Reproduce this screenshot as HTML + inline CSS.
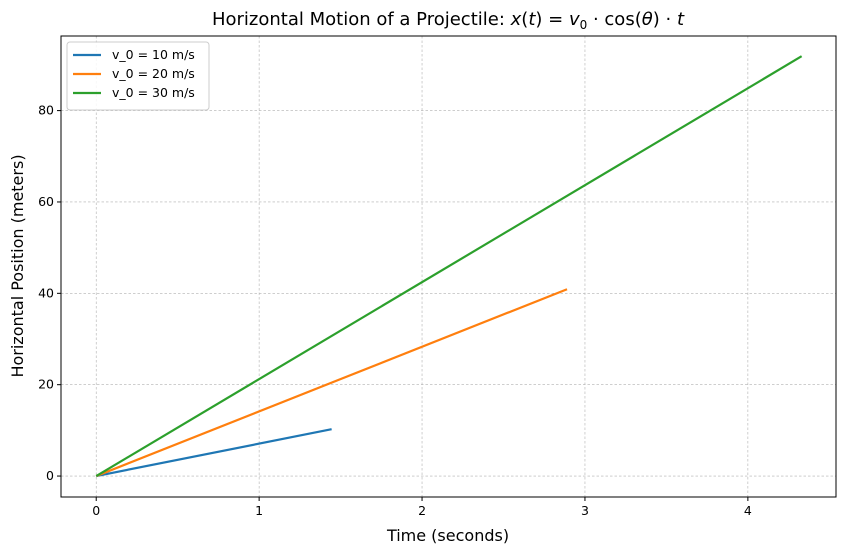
<!DOCTYPE html>
<html><head><meta charset="utf-8"><style>
body{margin:0;background:#fff;font-family:"Liberation Sans","DejaVu Sans",sans-serif;}
</style></head><body>
<svg id="chart" width="845" height="554" xmlns="http://www.w3.org/2000/svg">
<text x="448" y="25" text-anchor="middle" font-size="18" font-family="DejaVu Sans, sans-serif">Horizontal Motion of a Projectile: <tspan font-style="italic">x</tspan>(<tspan font-style="italic">t</tspan>) = <tspan font-style="italic">v</tspan><tspan font-size="12" dy="4">0</tspan><tspan dy="-4"> · cos(</tspan><tspan font-style="italic">θ</tspan>) · <tspan font-style="italic">t</tspan></text>
<g id="grid"></g>
<g id="series"></g>
<rect x="61" y="36" width="775" height="461" fill="none" stroke="#000" stroke-width="1"/>
<g id="ticks" font-size="12.5" font-family="DejaVu Sans, sans-serif"></g>
<text x="448" y="541" text-anchor="middle" font-size="16" font-family="DejaVu Sans, sans-serif">Time (seconds)</text>
<text transform="translate(23,266) rotate(-90)" text-anchor="middle" font-size="16" font-family="DejaVu Sans, sans-serif">Horizontal Position (meters)</text>
<g id="legend" font-size="12.5" font-family="DejaVu Sans, sans-serif"></g>
</svg>
<script>
const seriesLabels = ["v_0 = 10 m/s","v_0 = 20 m/s","v_0 = 30 m/s"];
const seriesColors = ["#1f77b4","#ff7f0e","#2ca02c"];
const seriesT = [[0,1.445],[0,2.89],[0,4.33]];
const seriesX = [[0,10.25],[0,40.9],[0,91.9]];
const xTicks = [0,1,2,3,4];
const yTicks = [0,20,40,60,80];
const NS="http://www.w3.org/2000/svg";
const X0=61,X1=836,Y0=497,Y1=36,xmin=-0.2162,xmax=4.541,ymin=-4.587,ymax=96.33;
const sx=v=>X0+(v-xmin)/(xmax-xmin)*(X1-X0);
const sy=v=>Y0-(v-ymin)/(ymax-ymin)*(Y0-Y1);
function mk(t,a,p){const e=document.createElementNS(NS,t);for(const k in a)e.setAttribute(k,a[k]);p.appendChild(e);return e;}
const grid=document.getElementById('grid'),ticks=document.getElementById('ticks');
xTicks.forEach(v=>{
 const g=mk('line',{x1:sx(v),x2:sx(v),y1:Y1,y2:Y0,stroke:'#b0b0b0','stroke-width':0.6,'stroke-dasharray':'2.5,2'},grid);
 
 
 mk('line',{x1:sx(v),x2:sx(v),y1:Y0,y2:Y0+4,stroke:'#000'},ticks);
 const t=mk('text',{x:sx(v),y:Y0+18,'text-anchor':'middle'},ticks);t.textContent=v;
 
 
});
yTicks.forEach(v=>{
 const g=mk('line',{x1:X0,x2:X1,y1:sy(v),y2:sy(v),stroke:'#b0b0b0','stroke-width':0.6,'stroke-dasharray':'2.5,2'},grid);
 
 
 mk('line',{x1:X0-4,x2:X0,y1:sy(v),y2:sy(v),stroke:'#000'},ticks);
 const t=mk('text',{x:X0-7,y:sy(v)+4,'text-anchor':'end'},ticks);t.textContent=v;
 
 
});
const ser=document.getElementById('series');
seriesT.forEach((ts,i)=>{
 const pts=ts.map((t,j)=>sx(t)+','+sy(seriesX[i][j])).join(' ');
 const l=mk('polyline',{points:pts,fill:'none',stroke:seriesColors[i],'stroke-width':2.2},ser);
 
 
});
const lg=document.getElementById('legend');
const box=mk('rect',{x:67,y:42,width:142,height:68,rx:3,fill:'#fff','fill-opacity':0.85,stroke:'#ccc'},lg);


seriesLabels.forEach((s,i)=>{
 const y=55+i*19;
 mk('line',{x1:73,x2:101,y1:y,y2:y,stroke:seriesColors[i],'stroke-width':2.2},lg);
 const t=mk('text',{x:112,y:y+4},lg);t.textContent=s;
 
 
});
</script>
</body></html>
